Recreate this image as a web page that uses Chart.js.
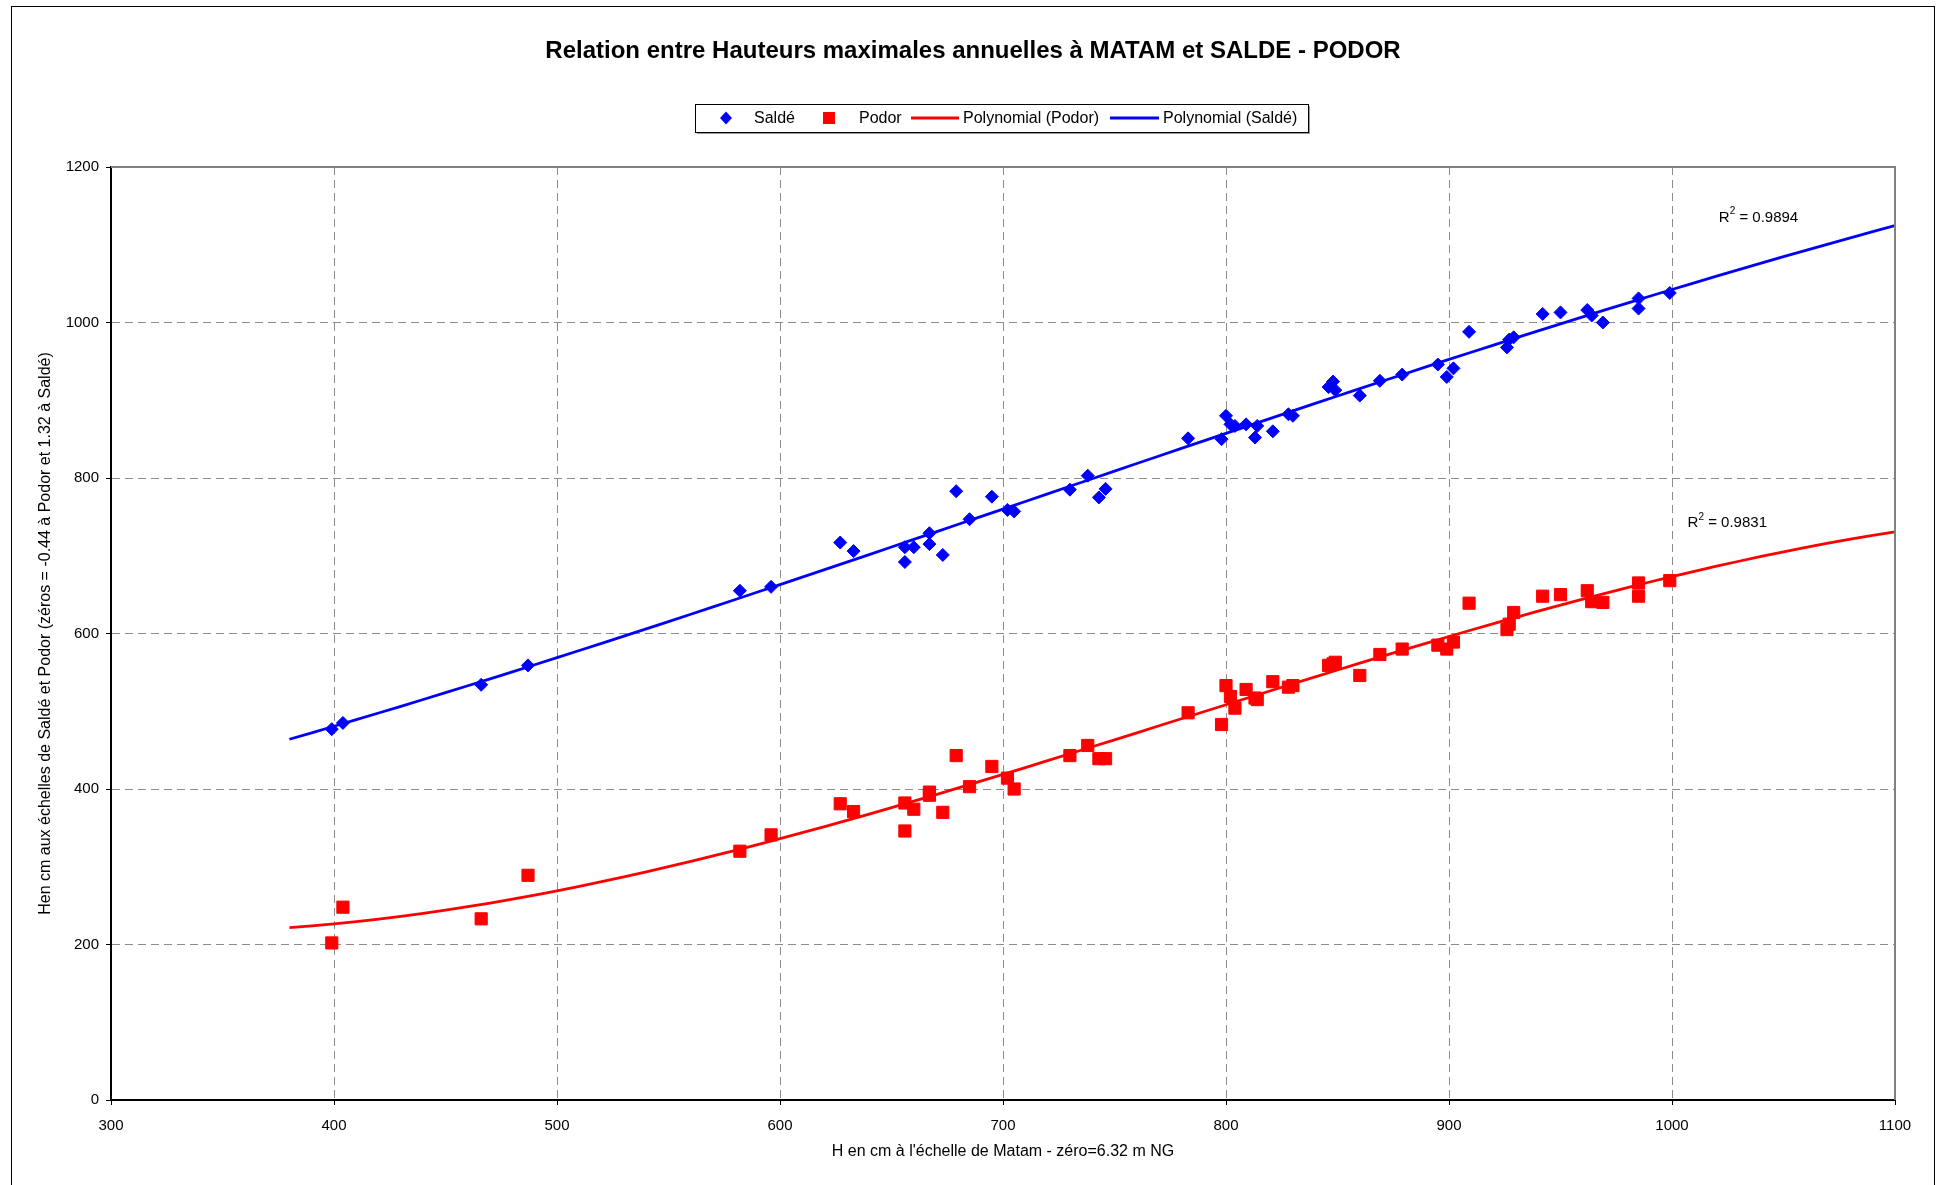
<!DOCTYPE html>
<html>
<head>
<meta charset="utf-8">
<script src="https://cdn.jsdelivr.net/npm/chart.js@4/dist/chart.umd.min.js"></script>
<style>
  html, body { margin: 0; padding: 0; background: #fff; }
  canvas { display: block; }
</style>
</head>
<body>
<canvas id="c" width="1943" height="1185"></canvas>
<script>
// Annual maximum water heights (cm) at Matam and the matching readings at Saldé and Podor
const matam = [399, 404, 466, 487, 582, 596, 627, 633, 656, 656, 660, 667, 667, 673, 679, 685, 695, 702, 705,
               730, 738, 743, 746, 783, 798, 800, 802, 804, 809, 813, 814, 821, 828, 830, 846, 848, 849, 860,
               869, 879, 895, 899, 902, 909, 926, 927, 929, 942, 950, 962, 964, 969, 985, 985, 999];
const salde = [477, 485, 534, 559, 655, 660, 717, 706, 692, 711, 711, 729, 715, 701, 783, 747, 776, 759, 757,
               785, 803, 775, 786, 851, 850, 880, 869, 867, 869, 852, 867, 860, 882, 880, 917, 924, 913, 906,
               925, 933, 946, 930, 941, 988, 968, 978, 981, 1011, 1013, 1016, 1009, 1000, 1031, 1018, 1038];
const podor = [202, 248, 233, 289, 320, 341, 381, 371, 346, 382, 374, 396, 392, 370, 443, 403, 429, 414, 400,
               443, 456, 439, 439, 498, 483, 533, 519, 504, 528, 517, 515, 538, 531, 533, 559, 561, 563, 546,
               573, 580, 585, 580, 589, 639, 605, 612, 627, 648, 650, 655, 641, 640, 665, 648, 668];

const xTicks = [300, 400, 500, 600, 700, 800, 900, 1000, 1100];
const yTicks = [0, 200, 400, 600, 800, 1000, 1200];

// Trendline order and span, and the R² annotations (value, anchor in data units)
const trendOrder = 3;
const trendFrom = 380, trendTo = 1100, trendStep = 10;
const r2Salde = '0.9894', r2SaldeAt = [1021, 1135];
const r2Podor = '0.9831', r2PodorAt = [1007, 742];

// Least-squares polynomial fit (normal equations, Gaussian elimination)
function polyFit(xs, ys, order) {
  const c = 700, k = 100, n = order + 1;
  const A = Array.from({ length: n }, () => new Array(n + 1).fill(0));
  for (let i = 0; i < xs.length; i++) {
    const u = (xs[i] - c) / k;
    const pw = [1];
    for (let j = 1; j < 2 * n; j++) pw.push(pw[j - 1] * u);
    for (let r = 0; r < n; r++) {
      for (let q = 0; q < n; q++) A[r][q] += pw[r + q];
      A[r][n] += ys[i] * pw[r];
    }
  }
  for (let i = 0; i < n; i++) {
    for (let r = i + 1; r < n; r++) {
      const f = A[r][i] / A[i][i];
      for (let q = i; q <= n; q++) A[r][q] -= f * A[i][q];
    }
  }
  const b = new Array(n).fill(0);
  for (let i = n - 1; i >= 0; i--) {
    let s = A[i][n];
    for (let q = i + 1; q < n; q++) s -= A[i][q] * b[q];
    b[i] = s / A[i][i];
  }
  return x => { const u = (x - c) / k; let v = 0, p = 1; for (let j = 0; j < n; j++) { v += b[j] * p; p *= u; } return v; };
}

function trendPoints(ys) {
  const f = polyFit(matam, ys, trendOrder);
  const pts = [];
  for (let x = trendFrom; x <= trendTo; x += trendStep) pts.push({ x, y: f(x) });
  return pts;
}

const pairs = ys => matam.map((x, i) => ({ x, y: ys[i] }));

const FONT = '"Liberation Sans", Arial, Helvetica, sans-serif';
const BLUE = '#0000FF', RED = '#FF0000';

// Frame, title, legend and R² annotations
const decorations = {
  id: 'decorations',
  afterDraw(chart) {
    const ctx = chart.ctx;
    const a = chart.chartArea;
    const xs = chart.scales.x, ys = chart.scales.y;
    ctx.save();

    // outer chart border
    ctx.strokeStyle = '#000';
    ctx.lineWidth = 1;
    ctx.strokeRect(11.5, 6.5, 1923, 1200);

    // plot area frame (top and right)
    ctx.strokeStyle = '#808080';
    ctx.lineWidth = 2;
    ctx.beginPath();
    ctx.moveTo(a.left, a.top);
    ctx.lineTo(a.right, a.top);
    ctx.lineTo(a.right, a.bottom);
    ctx.stroke();

    // title
    ctx.fillStyle = '#000';
    ctx.font = 'bold 24px ' + FONT;
    ctx.textAlign = 'center';
    ctx.textBaseline = 'middle';
    ctx.fillText('Relation entre Hauteurs maximales annuelles à MATAM et SALDE - PODOR', 973, 51);

    // legend box with shadow
    const L = 695, T = 104, W = 613, H = 28;
    ctx.fillStyle = '#9a9a9a';
    ctx.fillRect(L + 2, T + 2, W, H);
    ctx.fillStyle = '#fff';
    ctx.fillRect(L, T, W, H);
    ctx.strokeStyle = '#000';
    ctx.lineWidth = 1;
    ctx.strokeRect(L + 0.5, T + 0.5, W, H);

    const cy = T + H / 2;
    ctx.font = '16px ' + FONT;
    ctx.textAlign = 'left';
    ctx.textBaseline = 'middle';
    // diamond
    ctx.fillStyle = BLUE;
    ctx.beginPath();
    ctx.moveTo(726, cy - 6.5); ctx.lineTo(732, cy); ctx.lineTo(726, cy + 6.5); ctx.lineTo(720, cy);
    ctx.closePath(); ctx.fill();
    ctx.fillStyle = '#000';
    ctx.fillText('Saldé', 754, cy + 1);
    // square
    ctx.fillStyle = RED;
    ctx.fillRect(823, cy - 6, 12, 12);
    ctx.fillStyle = '#000';
    ctx.fillText('Podor', 859, cy + 1);
    // trend lines
    ctx.lineWidth = 3;
    ctx.strokeStyle = RED;
    ctx.beginPath(); ctx.moveTo(911, cy); ctx.lineTo(959, cy); ctx.stroke();
    ctx.fillText('Polynomial (Podor)', 963, cy + 1);
    ctx.strokeStyle = BLUE;
    ctx.beginPath(); ctx.moveTo(1110, cy); ctx.lineTo(1159, cy); ctx.stroke();
    ctx.fillText('Polynomial (Saldé)', 1163, cy + 1);

    // R² annotations
    const drawR2 = (val, at) => {
      let x = xs.getPixelForValue(at[0]);
      const y = ys.getPixelForValue(at[1]);
      ctx.fillStyle = '#000';
      ctx.textBaseline = 'middle';
      ctx.font = '15px ' + FONT;
      ctx.fillText('R', x, y);
      x += ctx.measureText('R').width;
      ctx.font = '10px ' + FONT;
      ctx.fillText('2', x, y - 6);
      x += ctx.measureText('2').width;
      ctx.font = '15px ' + FONT;
      ctx.fillText(' = ' + val, x, y);
    };
    drawR2(r2Salde, r2SaldeAt);
    drawR2(r2Podor, r2PodorAt);

    ctx.restore();
  }
};

const tickFont = { family: FONT, size: 15 };
const plainNumber = v => String(v);

new Chart(document.getElementById('c'), {
  type: 'scatter',
  data: {
    datasets: [
      {
        label: 'Saldé',
        data: pairs(salde),
        pointStyle: 'rectRot',
        pointRadius: 6.5,
        pointBackgroundColor: BLUE,
        pointBorderColor: BLUE,
        pointBorderWidth: 1,
        showLine: false
      },
      {
        label: 'Podor',
        data: pairs(podor),
        pointStyle: 'rect',
        pointRadius: 8.6,
        pointBackgroundColor: RED,
        pointBorderColor: RED,
        pointBorderWidth: 1,
        showLine: false
      },
      {
        label: 'Polynomial (Podor)',
        data: trendPoints(podor),
        showLine: true,
        borderColor: RED,
        borderWidth: 2.8,
        pointRadius: 0,
        tension: 0
      },
      {
        label: 'Polynomial (Saldé)',
        data: trendPoints(salde),
        showLine: true,
        borderColor: BLUE,
        borderWidth: 2.8,
        pointRadius: 0,
        tension: 0
      }
    ]
  },
  options: {
    responsive: false,
    animation: false,
    devicePixelRatio: 1,
    layout: { padding: { top: 167, right: 48, left: 0, bottom: 0 } },
    plugins: {
      legend: { display: false },
      title: { display: false },
      tooltip: { enabled: false }
    },
    scales: {
      x: {
        type: 'linear',
        min: xTicks[0],
        max: xTicks[xTicks.length - 1],
        afterBuildTicks: s => { s.ticks = xTicks.map(v => ({ value: v })); },
        afterFit: s => { s.height = 85; },
        grid: { color: '#8c8c8c', lineWidth: 1, tickLength: 5, tickColor: '#000', tickWidth: 1 },
        border: { color: '#000', width: 2, dash: [8, 5] },
        ticks: { color: '#000', padding: 12, font: tickFont, callback: plainNumber },
        title: {
          display: true,
          text: "H en cm à l'échelle de Matam - zéro=6.32 m NG",
          color: '#000',
          font: { family: FONT, size: 16 },
          padding: { top: 0, bottom: 24 }
        }
      },
      y: {
        type: 'linear',
        min: yTicks[0],
        max: yTicks[yTicks.length - 1],
        afterBuildTicks: s => { s.ticks = yTicks.map(v => ({ value: v })); },
        afterFit: s => { s.width = 111; },
        grid: { color: '#8c8c8c', lineWidth: 1, tickLength: 5, tickColor: '#000', tickWidth: 1 },
        border: { color: '#000', width: 2, dash: [8, 5] },
        ticks: { color: '#000', padding: 7, font: tickFont, callback: plainNumber },
        title: {
          display: true,
          text: 'Hen cm aux échelles de Saldé et Podor (zéros = -0.44 à Podor et 1.32 à Saldé)',
          color: '#000',
          font: { family: FONT, size: 16 },
          padding: { top: 36, bottom: 0 }
        }
      }
    }
  },
  plugins: [decorations]
});
</script>
</body>
</html>
